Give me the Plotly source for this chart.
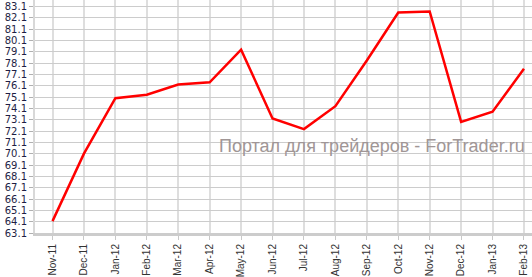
import plotly.graph_objects as go

months = ["Nov-11", "Dec-11", "Jan-12", "Feb-12", "Mar-12", "Apr-12", "May-12", "Jun-12",
          "Jul-12", "Aug-12", "Sep-12", "Oct-12", "Nov-12", "Dec-12", "Jan-13", "Feb-13"]
values = [64.15, 70.1, 75.0, 75.3, 76.2, 76.4, 79.28, 73.2,
          72.27, 74.29, 78.32, 82.56, 82.65, 72.91, 73.8, 77.6]
ytick_vals = [63.1 + i for i in range(21)]
ytick_text = [f"{v:.1f}" for v in ytick_vals]
watermark = "Портал для трейдеров - ForTrader.ru"

fig = go.Figure()
fig.add_trace(go.Scatter(x=list(range(len(months))), y=values, mode="lines",
                         line=dict(color="#ff0000", width=2.5), hoverinfo="skip"))

fig.add_annotation(text=watermark, xref="paper", yref="paper", x=0.99, y=0.375,
                   xanchor="right", yanchor="middle", showarrow=False,
                   font=dict(family="Liberation Sans, Arial", size=18, color="#a09696"))

fig.update_layout(
    width=532, height=277,
    margin=dict(l=35, r=0, t=0, b=39),
    paper_bgcolor="white", plot_bgcolor="white",
    showlegend=False,
    xaxis=dict(range=[-0.557, 15.255], tickmode="array",
               tickvals=list(range(len(months))), ticktext=months,
               tickangle=-90, ticks="outside", ticklen=4, tickcolor="#c8c8c8",
               showgrid=True, gridcolor="#dedede", gridwidth=2,
               showline=True, linecolor="#cccccc", linewidth=3,
               zeroline=False,
               tickfont=dict(family="Liberation Sans, Arial", size=10, color="#333333")),
    yaxis=dict(range=[63.1, 83.66], tickmode="array",
               tickvals=ytick_vals, ticktext=ytick_text,
               ticks="outside", ticklen=4, tickcolor="#b0b0b0",
               showgrid=True, gridcolor="#cccccc", gridwidth=1,
               showline=True, linecolor="#d8d8d8", linewidth=2,
               zeroline=False,
               tickfont=dict(family="DejaVu Sans", size=10, color="#1e1e44")),
)

fig.write_html("out.html")
